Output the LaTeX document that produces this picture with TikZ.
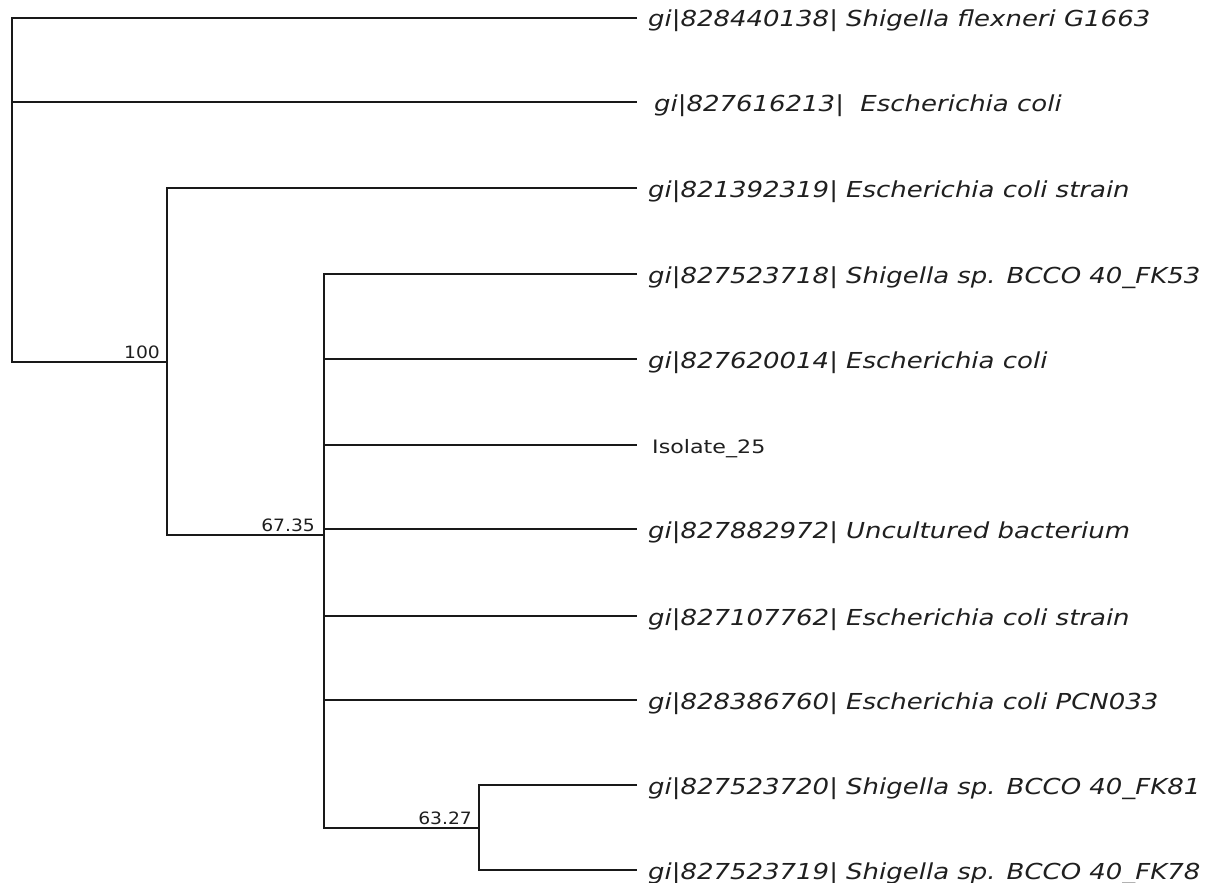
\documentclass[tikz,border=0pt]{standalone}
\usepackage{fontspec}
\newfontfamily\leaffont[FakeStretch=1.18]{DejaVu Sans}
\newfontfamily\isofont[FakeStretch=1.2]{DejaVu Sans}
\newfontfamily\supfont[FakeStretch=1.1]{DejaVu Sans}
\begin{document}
\begin{tikzpicture}[x=1pt,y=-1pt,
  br/.style={line width=1.3pt, draw=black!90, line join=miter},
  leaf/.style={anchor=base west, inner sep=0pt, text=black!88,
    font=\leaffont\itshape\fontsize{22}{24}\selectfont},
  iso/.style={anchor=base west, inner sep=0pt, text=black!88,
    font=\isofont\fontsize{18.5}{20}\selectfont},
  sup/.style={anchor=base east, inner sep=0pt, text=black!88,
    font=\supfont\fontsize{17}{18}\selectfont}]
\useasboundingbox (0,0) rectangle (1207,883);
% inner nodes
\coordinate (r) at (12,362);
\coordinate (a) at (167,362);
\coordinate (b) at (324,535);
\coordinate (c) at (479,828);
% leaf tips
\coordinate (t1) at (637,18);
\coordinate (t2) at (637,102);
\coordinate (t3) at (637,188);
\coordinate (t4) at (637,274);
\coordinate (t5) at (637,359);
\coordinate (t6) at (637,445);
\coordinate (t7) at (637,529);
\coordinate (t8) at (637,616);
\coordinate (t9) at (637,700);
\coordinate (t10) at (637,785);
\coordinate (t11) at (637,870);
% labels
\node[leaf] (l1) at (648,27) {gi|828440138| Shigella flexneri G1663};
\node[leaf] (l2) at (654,111) {gi|827616213|\ \ Escherichia coli};
\node[leaf] (l3) at (648,197) {gi|821392319| Escherichia coli strain};
\node[leaf] (l4) at (648,283) {gi|827523718| Shigella sp. BCCO 40\_FK53};
\node[leaf] (l5) at (648,368) {gi|827620014| Escherichia coli};
\node[iso] (l6) at (652,453) {Isolate\_25};
\node[leaf] (l7) at (648,538) {gi|827882972| Uncultured bacterium};
\node[leaf] (l8) at (648,625) {gi|827107762| Escherichia coli strain};
\node[leaf] (l9) at (648,709) {gi|828386760| Escherichia coli PCN033};
\node[leaf] (l10) at (648,794) {gi|827523720| Shigella sp. BCCO 40\_FK81};
\node[leaf] (l11) at (648,879) {gi|827523719| Shigella sp. BCCO 40\_FK78};
% support values
\node[sup] (s1) at (160,358) {100};
\node[sup] (s2) at (315,531) {67.35};
\node[sup] (s3) at (472,824) {63.27};
% branches
\draw[br] (t1) -| (r) -- (a);
\draw[br] (t2 -| r) -- (t2);
\draw[br] (t3) -| (a) |- (b);
\draw[br] (t4) -| (b) |- (c);
\draw[br] (t5 -| b) -- (t5);
\draw[br] (t6 -| b) -- (t6);
\draw[br] (t7 -| b) -- (t7);
\draw[br] (t8 -| b) -- (t8);
\draw[br] (t9 -| b) -- (t9);
\draw[br] (t10) -| (c) |- (t11);
\end{tikzpicture}
\end{document}
